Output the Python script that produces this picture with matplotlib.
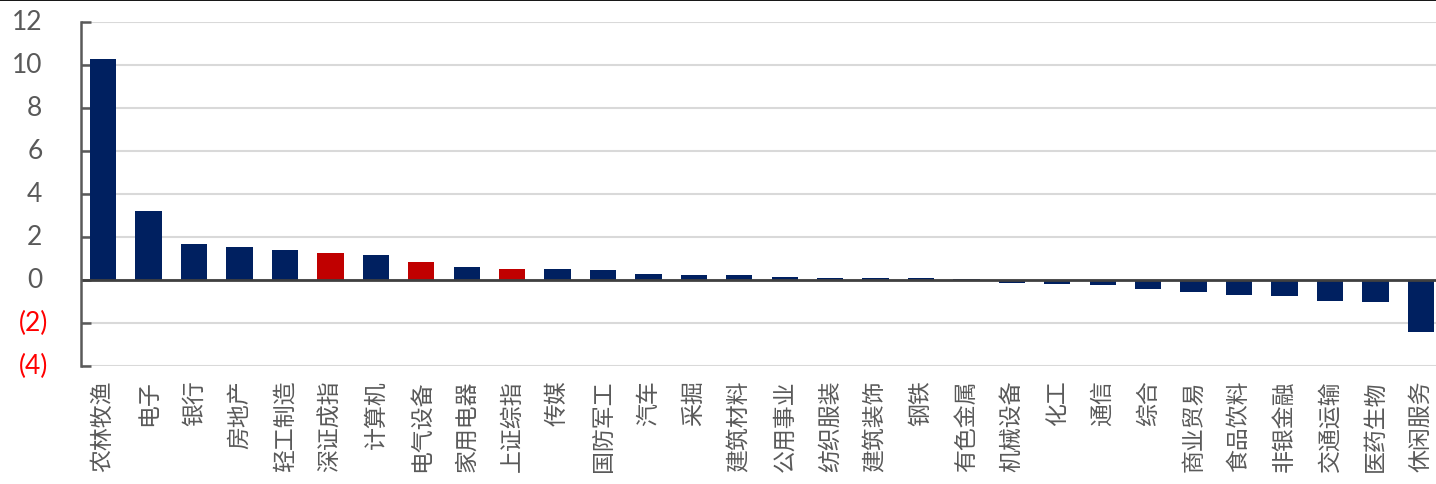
import matplotlib
matplotlib.use("Agg")
import matplotlib.pyplot as plt
from matplotlib.lines import Line2D

categories = ["农林牧渔", "电子", "银行", "房地产", "轻工制造", "深证成指", "计算机", "电气设备",
              "家用电器", "上证综指", "传媒", "国防军工", "汽车", "采掘", "建筑材料", "公用事业",
              "纺织服装", "建筑装饰", "钢铁", "有色金属", "机械设备", "化工", "通信", "综合",
              "商业贸易", "食品饮料", "非银金融", "交通运输", "医药生物", "休闲服务"]
values = [10.25, 3.18, 1.64, 1.51, 1.40, 1.26, 1.14, 0.84,
          0.58, 0.50, 0.51, 0.45, 0.26, 0.20, 0.20, 0.14,
          0.08, 0.08, 0.08, 0.03, -0.14, -0.20, -0.26, -0.43,
          -0.57, -0.69, -0.75, -0.99, -1.06, -2.45]
highlight = ["深证成指", "电气设备", "上证综指"]
yticks = [-4, -2, 0, 2, 4, 6, 8, 10, 12]
ytick_labels = ["(4)", "(2)", "0", "2", "4", "6", "8", "10", "12"]

NAVY = "#002060"
RED = "#C00000"
colors = [RED if c in highlight else NAVY for c in categories]

W, H, DPI = 1436, 485, 100
fig = plt.figure(figsize=(W / DPI, H / DPI), dpi=DPI)
ax = fig.add_axes([80.5 / W, 1 - 366.7 / H, (1443.5 - 80.5) / W, (366.7 - 22.7) / H])

x = list(range(len(categories)))
ax.bar(x, values, width=0.58, color=colors, zorder=3)

ax.set_xlim(-0.5, len(categories) - 0.5)
ax.set_ylim(-4, 12)
ax.set_yticks(yticks)
ax.yaxis.grid(True, color="#d9d9d9", linewidth=1.5, zorder=0)
ax.set_axisbelow(True)
ax.axhline(0, color="#404040", linewidth=2.0, zorder=4)

for s in ["top", "right", "bottom"]:
    ax.spines[s].set_visible(False)
ax.spines["left"].set_color("#595959")
ax.spines["left"].set_linewidth(1.8)
ax.spines["left"].set_zorder(5)

ax.tick_params(axis="y", direction="in", length=7.2, width=1.8, color="#595959", labelleft=False)
ax.tick_params(axis="x", length=0, pad=10)

# y tick labels (accounting style: positives leave room for ")")
ytrans = ax.get_yaxis_transform()
for v, lab in zip(yticks, ytick_labels):
    neg = v < 0
    ax.annotate(lab, xy=(0, v), xycoords=ytrans,
                xytext=(-32 if neg else -38, 0), textcoords="offset pixels",
                ha="right", va="center", fontsize=19, family=["Lato", "DejaVu Sans"],
                color="#FF0000" if neg else "#595959", annotation_clip=False)

ax.set_xticks(x)
ax.set_xticklabels(categories, rotation=90, fontsize=16.5, color="#595959",
                   family=["Noto Sans CJK SC", "DejaVu Sans"], fontweight="light",
                   va="top", ha="center")

fig.add_artist(Line2D([0, 1], [1 - 0.8 / H, 1 - 0.8 / H], transform=fig.transFigure,
                      color="black", linewidth=1.3))

fig.savefig("out.png", dpi=DPI)
